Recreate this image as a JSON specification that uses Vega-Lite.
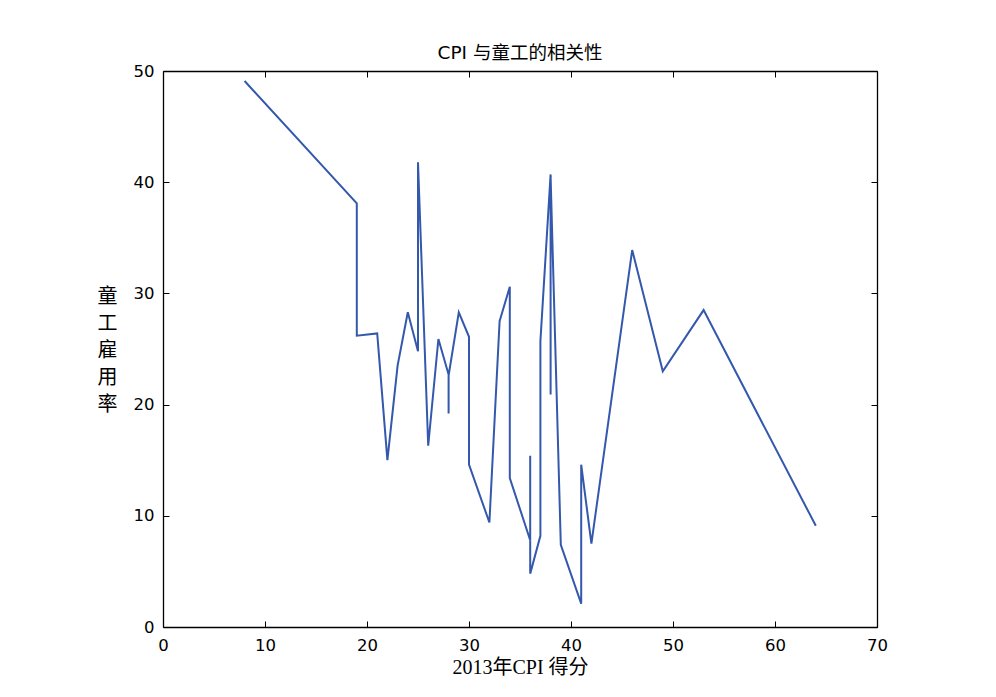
{
  "$schema": "https://vega.github.io/schema/vega-lite/v6.json",
  "width": 714,
  "height": 556,
  "autosize": {"type": "none"},
  "padding": {"left": 163, "top": 71, "right": 119, "bottom": 70},
  "background": "white",
  "title": {
    "text": "CPI 与童工的相关性",
    "fontSize": 18.5,
    "fontWeight": "normal",
    "font": "DejaVu Sans, Noto Sans CJK SC",
    "color": "black",
    "offset": 1
  },
  "config": {
    "view": {"stroke": null},
    "axis": {
      "grid": false,
      "domainColor": "black",
      "domainWidth": 1.3,
      "tickColor": "black",
      "tickWidth": 1,
      "tickSize": -6,
      "labelFlush": false,
      "labelFont": "DejaVu Sans",
      "labelFontSize": 16.5,
      "labelColor": "black",
      "titleColor": "black",
      "titleFontWeight": "normal"
    }
  },
  "data": {
    "values": [
      {"i": 1, "cpi": 8, "rate": 49.1},
      {"i": 2, "cpi": 19, "rate": 38.1},
      {"i": 3, "cpi": 19, "rate": 26.2},
      {"i": 4, "cpi": 21, "rate": 26.4},
      {"i": 5, "cpi": 22, "rate": 15.0},
      {"i": 6, "cpi": 23, "rate": 23.5},
      {"i": 7, "cpi": 24, "rate": 28.3},
      {"i": 8, "cpi": 25, "rate": 24.8},
      {"i": 9, "cpi": 25, "rate": 41.8},
      {"i": 10, "cpi": 26, "rate": 16.3},
      {"i": 11, "cpi": 27, "rate": 25.9},
      {"i": 12, "cpi": 28, "rate": 22.7},
      {"i": 13, "cpi": 28, "rate": 19.2},
      {"i": 14, "cpi": 28, "rate": 22.6},
      {"i": 15, "cpi": 29, "rate": 28.3},
      {"i": 16, "cpi": 30, "rate": 26.1},
      {"i": 17, "cpi": 30, "rate": 14.6},
      {"i": 18, "cpi": 32, "rate": 9.4},
      {"i": 19, "cpi": 33, "rate": 27.5},
      {"i": 20, "cpi": 34, "rate": 30.6},
      {"i": 21, "cpi": 34, "rate": 13.4},
      {"i": 22, "cpi": 36, "rate": 7.8},
      {"i": 23, "cpi": 36, "rate": 15.4},
      {"i": 24, "cpi": 36, "rate": 4.8},
      {"i": 25, "cpi": 37, "rate": 8.2},
      {"i": 26, "cpi": 37, "rate": 25.7},
      {"i": 27, "cpi": 38, "rate": 40.7},
      {"i": 28, "cpi": 38, "rate": 20.9},
      {"i": 29, "cpi": 38, "rate": 40.5},
      {"i": 30, "cpi": 39, "rate": 7.4},
      {"i": 31, "cpi": 41, "rate": 2.1},
      {"i": 32, "cpi": 41, "rate": 14.6},
      {"i": 33, "cpi": 42, "rate": 7.5},
      {"i": 34, "cpi": 46, "rate": 33.9},
      {"i": 35, "cpi": 49, "rate": 23.0},
      {"i": 36, "cpi": 53, "rate": 28.5},
      {"i": 37, "cpi": 64, "rate": 9.1}
    ]
  },
  "layer": [
    {
      "mark": {"type": "line", "color": "#3358ac", "strokeWidth": 2},
      "encoding": {
        "x": {
          "field": "cpi", "type": "quantitative",
          "scale": {"domain": [0, 70], "nice": false, "zero": false},
          "axis": {
            "orient": "bottom",
            "values": [0, 10, 20, 30, 40, 50, 60, 70],
            "labelPadding": 16,
            "title": "2013年CPI 得分",
            "titleFont": "Liberation Serif, Noto Sans CJK SC",
            "titleFontSize": 20,
            "titleBaseline": "middle",
            "titleX": 357,
            "titleY": 40
          }
        },
        "y": {
          "field": "rate", "type": "quantitative",
          "scale": {"domain": [0, 50], "nice": false, "zero": false},
          "axis": {
            "orient": "left",
            "values": [0, 10, 20, 30, 40, 50],
            "labelPadding": 15,
            "title": ["童", "工", "雇", "用", "率"],
            "titleFont": "Noto Sans CJK SC",
            "titleFontSize": 20,
            "titleAngle": 0,
            "titleAlign": "center",
            "titleBaseline": "middle",
            "titleLineHeight": 27,
            "titleX": -56,
            "titleY": 225
          }
        },
        "order": {"field": "i", "type": "quantitative"}
      }
    },
    {
      "mark": {"type": "line", "opacity": 0},
      "encoding": {
        "x": {
          "field": "cpi", "type": "quantitative",
          "scale": {"domain": [0, 70], "nice": false, "zero": false},
          "axis": {"orient": "top", "values": [0, 10, 20, 30, 40, 50, 60, 70], "labels": false, "title": null}
        },
        "y": {
          "field": "rate", "type": "quantitative",
          "scale": {"domain": [0, 50], "nice": false, "zero": false},
          "axis": {"orient": "right", "values": [0, 10, 20, 30, 40, 50], "labels": false, "title": null}
        },
        "order": {"field": "i", "type": "quantitative"}
      }
    }
  ],
  "resolve": {"axis": {"x": "independent", "y": "independent"}}
}
